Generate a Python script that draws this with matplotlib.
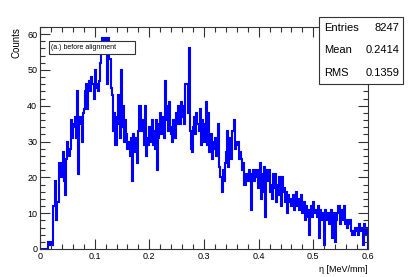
import numpy as np
import matplotlib
matplotlib.use("Agg")
import matplotlib.pyplot as plt
from matplotlib.ticker import MultipleLocator

plt.rcParams['font.family'] = ['Liberation Sans', 'DejaVu Sans']

# histogram: 300 bins of 0.002 from 0 to 0.6, counts
bin_lo = 0.0
bin_hi = 0.6
counts = [
    0, 0, 0, 0, 0, 0, 0, 2, 1, 2,
    1, 1, 12, 12, 19, 8, 13, 24, 24, 20,
    20, 27, 19, 15, 25, 30, 26, 28, 36, 31,
    35, 34, 37, 31, 44, 21, 35, 37, 30, 38,
    39, 44, 46, 39, 45, 47, 44, 48, 46, 42,
    50, 45, 46, 44, 47, 52, 56, 59, 56, 59,
    55, 46, 59, 53, 53, 45, 43, 33, 38, 29,
    37, 43, 35, 31, 50, 34, 40, 30, 36, 32,
    28, 30, 26, 31, 19, 32, 29, 27, 31, 24,
    33, 40, 33, 36, 35, 29, 40, 26, 31, 29,
    34, 30, 36, 29, 33, 28, 36, 22, 31, 35,
    38, 32, 37, 31, 47, 36, 40, 33, 41, 34,
    32, 30, 36, 31, 38, 35, 40, 36, 35, 41,
    37, 40, 35, 46, 46, 38, 56, 33, 28, 27,
    34, 37, 32, 38, 35, 33, 39, 29, 36, 32,
    30, 35, 41, 29, 38, 27, 32, 25, 30, 28,
    31, 26, 29, 35, 23, 20, 16, 22, 19, 24,
    27, 33, 23, 29, 31, 25, 33, 36, 28, 30,
    29, 30, 25, 27, 25, 22, 24, 18, 21, 20,
    19, 22, 20, 11, 21, 22, 19, 20, 22, 17,
    20, 24, 14, 21, 16, 23, 9, 22, 19, 22,
    16, 18, 14, 21, 17, 21, 13, 18, 15, 20,
    12, 20, 16, 17, 13, 16, 10, 15, 13, 14,
    12, 15, 11, 14, 16, 12, 14, 11, 13, 15,
    10, 13, 8, 12, 9, 11, 4, 10, 12, 9,
    13, 10, 11, 9, 12, 3, 11, 8, 10, 9,
    1, 11, 8, 10, 7, 9, 11, 3, 9, 10,
    2, 8, 10, 12, 7, 9, 11, 8, 12, 7,
    8, 6, 7, 8, 5, 4, 5, 4, 6, 5,
    6, 4, 7, 5, 6, 1, 7, 4, 6, 5,
]
stat_names = ["Entries", "Mean", "RMS"]
stat_values = ["8247", "0.2414", "0.1359"]
legend_text = "(a.) before alignment"

edges = np.linspace(bin_lo, bin_hi, len(counts) + 1)

fig = plt.figure(figsize=(4.09, 2.77), dpi=100)
ax = fig.add_axes([0.0978, 0.1011, 0.802, 0.8014])

ax.stairs(counts, edges, color='#0000ff', lw=1.5, baseline=0)

ax.set_xlim(bin_lo, bin_hi)
ax.set_ylim(0, 62)
ax.xaxis.set_major_locator(MultipleLocator(0.1))
ax.xaxis.set_minor_locator(MultipleLocator(0.02))
ax.yaxis.set_major_locator(MultipleLocator(10))
ax.yaxis.set_minor_locator(MultipleLocator(2))
ax.xaxis.set_major_formatter(lambda v, p: "0" if abs(v) < 1e-9 else f"{v:g}")
ax.tick_params(which='both', direction='in', top=True, right=True,
               labelsize=6.5, width=0.8, colors='#333333', labelcolor='black', pad=2)
ax.tick_params(which='major', length=7)
ax.tick_params(which='minor', length=3.5)
for s in ax.spines.values():
    s.set_linewidth(0.8)
    s.set_color('#333333')

ax.set_ylabel("Counts", fontsize=7, loc='top', labelpad=4)
ax.set_xlabel("\u03b7 [MeV/mm]", fontsize=6.5, loc='right', labelpad=3)

# label box in the top left corner
fig.patches.append(plt.Rectangle((0.120, 0.805), 0.211, 0.046, transform=fig.transFigure,
                                 fc='white', ec='#333333', lw=0.8, zorder=5))
fig.text(0.125, 0.828, legend_text, fontsize=5.0, va='center', ha='left', zorder=6)

# stats box
bx0, by0, bw, bh = 0.780, 0.697, 0.205, 0.242
fig.patches.append(plt.Rectangle((bx0, by0), bw, bh, transform=fig.transFigure,
                                 fc='white', ec='#333333', lw=0.8, zorder=5))
for i, (n, v) in enumerate(zip(stat_names, stat_values)):
    yy = by0 + bh * (5 - 2 * i) / 6
    fig.text(bx0 + 0.012, yy, n, fontsize=8, va='center', ha='left', zorder=6)
    fig.text(bx0 + bw - 0.008, yy, v, fontsize=8, va='center', ha='right', zorder=6)

fig.savefig("out.png", dpi=100)
